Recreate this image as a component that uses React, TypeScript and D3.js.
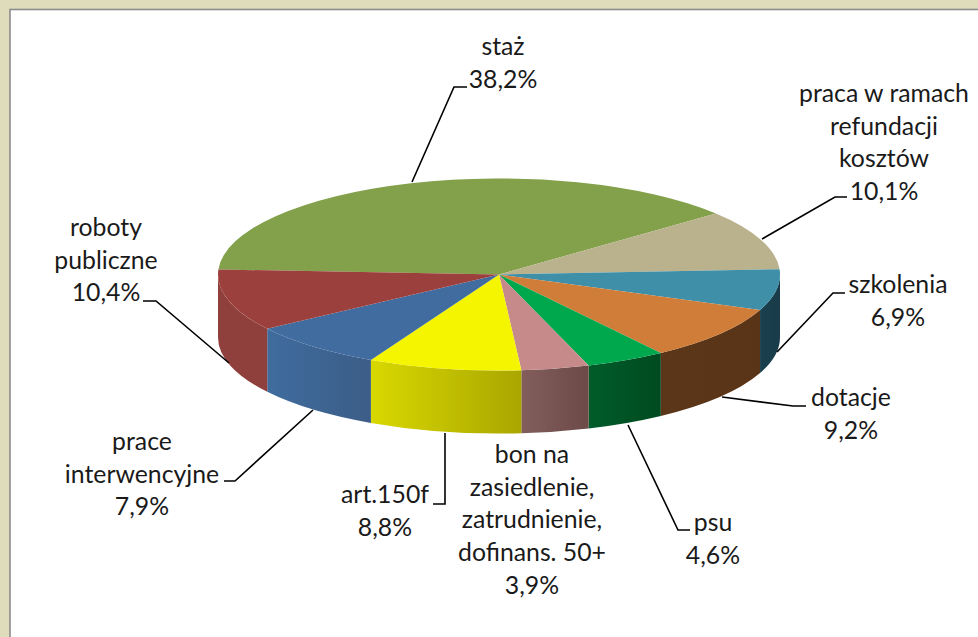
import React from 'react';
import * as d3 from 'd3';

const categories = [
  ['staż'],
  ['praca w ramach', 'refundacji', 'kosztów'],
  ['szkolenia'],
  ['dotacje'],
  ['psu'],
  ['bon na', 'zasiedlenie,', 'zatrudnienie,', 'dofinans. 50+'],
  ['art.150f'],
  ['prace', 'interwencyjne'],
  ['roboty', 'publiczne'],
];
const values = [38.2, 10.1, 6.9, 9.2, 4.6, 3.9, 8.8, 7.9, 10.4];

const topColors = ['#83a04a', '#bab28d', '#3f8fa9', '#cf7d38', '#00a84d', '#c68a8a', '#f5f500', '#416c9f', '#9c403d'];
const sideLeft = ['#83a04a', '#bab28d', '#1a3f4d', '#5c3618', '#005c2a', '#825d5b', '#d8d800', '#3f6c9e', '#8f3f3c'];
const sideRight = ['#83a04a', '#bab28d', '#1a3c4a', '#5a3417', '#004a20', '#6c4a48', '#aaa600', '#3c5d87', '#8f3f3c'];

// label anchors: centre x, first baseline, leader polyline (none for the bon label)
const labelX = [503, 884, 898, 851, 713, 532, 385, 142, 106];
const labelY = [55, 102, 293, 406, 531, 463, 503, 450, 236];
const leaders: [number, number][][] = [
  [[412, 182], [454, 87], [467, 87]],
  [[762, 239], [835, 197], [847, 197]],
  [[777, 352], [833, 293], [845, 293]],
  [[722, 397], [793, 406], [806, 406]],
  [[628, 425], [678, 530], [690, 530]],
  [],
  [[445, 433], [445, 504], [433, 504]],
  [[313, 410], [235, 481], [224, 481]],
  [[229, 363], [156, 301], [143, 301]],
];

const width = 978;
const height = 637;
const cx = 499;
const cy = 274.5;
const rx = 281;
const ry = 96;
const depth = 63;
const lineHeight = 32.7;
const squash = ry / rx;
const startDeg = 273;
const rad = (d: number) => (d * Math.PI) / 180;

const App = () => {
  const slices = d3
    .pie<number>()
    .sort(null)
    .value((d) => d)
    .startAngle(rad(startDeg))
    .endAngle(rad(startDeg + 360))(values);

  const arc = d3.arc<d3.PieArcDatum<number>>().innerRadius(0).outerRadius(rx);
  const leaderLine = d3.line();

  // wall of a slice, only the part on the front half of the ellipse
  const sidePath = (s: d3.PieArcDatum<number>) => {
    const wrap = s.startAngle >= 2 * Math.PI ? 2 * Math.PI : 0;
    const a0 = Math.max(s.startAngle - wrap, rad(90));
    const a1 = Math.min(s.endAngle - wrap, rad(270));
    if (a1 <= a0) return null;
    const dz = depth / squash;
    const p = d3.path();
    p.moveTo(rx * Math.cos(a0 - Math.PI / 2), rx * Math.sin(a0 - Math.PI / 2));
    p.arc(0, 0, rx, a0 - Math.PI / 2, a1 - Math.PI / 2);
    p.lineTo(rx * Math.cos(a1 - Math.PI / 2), rx * Math.sin(a1 - Math.PI / 2) + dz);
    p.arc(0, dz, rx, a1 - Math.PI / 2, a0 - Math.PI / 2, true);
    p.closePath();
    return p.toString();
  };

  return (
    <svg
      width={width}
      height={height}
      style={{ position: 'absolute', left: 0, top: 0 }}
      fontFamily="Lato, sans-serif"
      fontSize={24.8}
    >
      <defs>
        {values.map((_, i) => (
          <linearGradient key={i} id={`side${i}`} x1="0" x2="1" y1="0" y2="0">
            <stop offset="0" stopColor={sideLeft[i]} />
            <stop offset="1" stopColor={sideRight[i]} />
          </linearGradient>
        ))}
      </defs>
      <rect width={width} height={height} fill="#dfdcbc" />
      <rect x={10} y={9.5} width={width} height={height} fill="#fff" stroke="#8c8c8c" strokeWidth={1.6} />

      <g transform={`translate(${cx},${cy}) scale(1,${squash})`}>
        {slices.map((s, i) => {
          const d = sidePath(s);
          return d ? <path key={i} d={d} fill={`url(#side${i})`} /> : null;
        })}
        {slices.map((s, i) => (
          <path key={i} d={arc(s) as string} fill={topColors[i]} />
        ))}
      </g>

      {leaders.map((pts, i) =>
        pts.length ? (
          <path key={i} d={leaderLine(pts) as string} fill="none" stroke="#000" strokeWidth={1.6} />
        ) : null,
      )}

      {categories.map((lines, i) => (
        <text key={i} textAnchor="middle" fill="#1a1a1a">
          {[...lines, `${d3.format('.1f')(values[i]).replace('.', ',')}%`].map((t, j) => (
            <tspan key={j} x={labelX[i]} y={labelY[i] + j * lineHeight}>
              {t}
            </tspan>
          ))}
        </text>
      ))}
    </svg>
  );
};

export default App;
